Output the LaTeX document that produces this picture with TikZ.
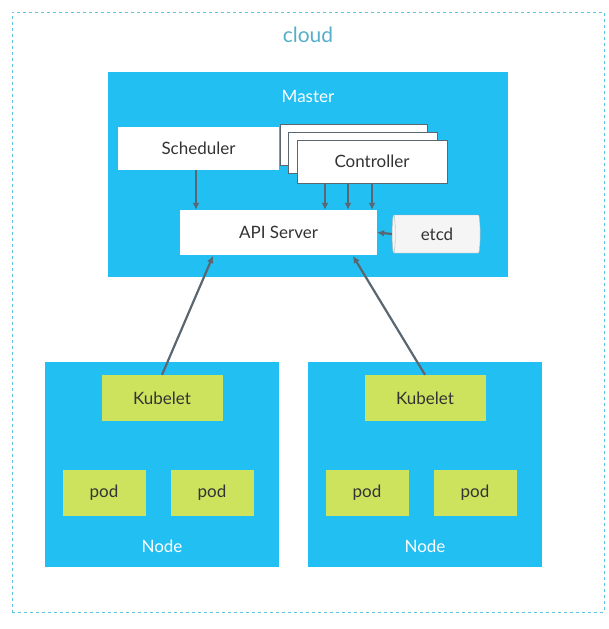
\documentclass[tikz,border=0pt]{standalone}
\usepackage{fontspec}
\setmainfont{Lato}
\usetikzlibrary{positioning, shapes.geometric, arrows.meta}
\definecolor{kblue}{HTML}{22BFF3}
\definecolor{kgreen}{HTML}{CDE35E}
\definecolor{kline}{HTML}{5A6670}
\definecolor{ktext}{HTML}{333333}
\definecolor{kcloud}{HTML}{5EC3E2}
\begin{document}
\begin{tikzpicture}[x=1pt, y=-1pt, font=\fontsize{17}{20}\selectfont]

  \tikzstyle{box}=[draw=none, minimum height=43pt, inner sep=0pt, text=ktext]
  \tikzstyle{white}=[box, fill=white]
  \tikzstyle{green}=[box, fill=kgreen, minimum height=46pt]
  \tikzstyle{area}=[fill=kblue, draw=none]
  \tikzstyle{title}=[text=white]
  \tikzstyle{link}=[-{Latex[length=7pt,width=7pt]}, draw=kline, line width=2.2pt]

  \useasboundingbox (0,0) rectangle (608,629);

  \node [draw=kcloud, dashed, line width=1pt, minimum width=592pt, minimum height=600pt] (cloud) at (308,312) {};
  \node [text=kcloud!90!black, font=\fontsize{21}{24}\selectfont] (cloud-t) at (308,35) {cloud};

  \node [area, minimum width=400pt, minimum height=205pt] (master) at (308,174.5) {};
  \node [title] (master-t) at (308,96) {Master};

  \node [white, minimum width=161pt] (sched) at (198.5,148.5) {Scheduler};
  \node [white, draw=kline, minimum width=147pt, minimum height=41pt] (ctrl-2) at (353.5,144.5) {};
  \node [white, draw=kline, minimum width=149pt, minimum height=41pt] (ctrl-1) at (362.5,152.5) {};
  \node [white, draw=kline, minimum width=150pt, minimum height=43pt] (ctrl) at (372,161.5) {Controller};
  \node [white, minimum width=197pt, minimum height=45pt] (api) at (278.5,232.5) {API Server};
  \node [cylinder, shape border rotate=180, aspect=0.25, draw=gray!60, fill=gray!8, text=ktext,
         minimum width=38pt, minimum height=88pt, inner sep=0pt] (etcd) at (437,234) {etcd};

  \draw [link] (sched.south -| 196,0) -- (api.north -| 196,0);
  \foreach \x in {325, 348, 372}
    \draw [link] (ctrl.south -| \x,0) -- (api.north -| \x,0);
  \draw [link] (etcd.west) -- (api.east);

  \foreach \n/\cx in {L/162, R/425} {
    \node [area, minimum width=234pt, minimum height=205pt] (node-\n) at (\cx,464.5) {};
    \node [title] (node-\n-t) at (\cx,546) {Node};
    \node [green, minimum width=121pt] (kube-\n) at (\cx,398) {Kubelet};
    \node [green, minimum width=83pt] (pod-\n-a) at (\cx-58,493) {pod};
    \node [green, minimum width=83pt] (pod-\n-b) at (\cx+50,493) {pod};
  }

  \coordinate (api-L) at (213,256);
  \coordinate (api-R) at (353,256);
  \draw [link] (kube-L.north) ++(0,0) -- (api-L);
  \draw [link] (kube-R.north) -- (api-R);

\end{tikzpicture}
\end{document}
